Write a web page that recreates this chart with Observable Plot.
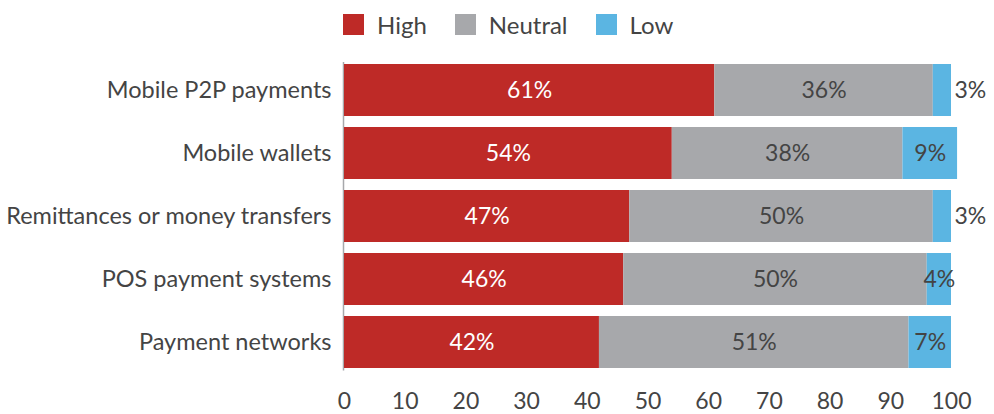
<!DOCTYPE html>
<html><head><meta charset="utf-8">
<script src="https://cdn.jsdelivr.net/npm/d3@7"></script>
<script src="https://cdn.jsdelivr.net/npm/@observablehq/plot@0.6"></script>
<style>
html,body{margin:0;padding:0;background:#fff;font-family:Lato, sans-serif;}
#legend{height:45px;padding-left:343px;box-sizing:border-box;padding-top:8px;overflow:hidden}
#legend .lg-swatch{margin-right:28px !important;}
#legend .lg-swatch > svg{margin-right:13px !important;}
#chart svg{display:block}
</style></head><body>
<div id="legend"></div><div id="chart"></div>
<script>
const categories = ["Mobile P2P payments", "Mobile wallets", "Remittances or money transfers", "POS payment systems", "Payment networks"];
const high = [61, 54, 47, 46, 42];
const neutral = [36, 38, 50, 50, 51];
const low = [3, 9, 3, 4, 7];
const levels = ["High", "Neutral", "Low"];
const colors = ["#BE2A27", "#A7A8AB", "#5BB5E2"];
const xTicks = [0, 10, 20, 30, 40, 50, 60, 70, 80, 90, 100];

const data = categories.flatMap((c, i) => [
  {category: c, level: "High", value: high[i]},
  {category: c, level: "Neutral", value: neutral[i]},
  {category: c, level: "Low", value: low[i]}
]);
const outside = d => d.level === "Low" && d.value < 4;
const color = {domain: levels, range: colors};
const font = "Lato, sans-serif";
const ink = "#444";

document.getElementById("legend").append(Plot.legend({
  color, swatchSize: 21, className: "lg",
  style: {fontSize: "24px", fontFamily: font, color: ink}
}));

const chart = Plot.plot({
  width: 994, height: 369,
  marginLeft: 344, marginRight: 43, marginTop: 5.5, marginBottom: 32,
  x: {domain: [0, 100], ticks: xTicks},
  y: {domain: categories, padding: 0.18},
  color,
  style: {fontFamily: font, color: ink, background: "white"},
  marks: [
    Plot.ruleX([0], {stroke: "#a7a8ab", strokeWidth: 1.5, dx: -1, insetTop: 11.5, insetBottom: 11.5}),
    Plot.barX(data, {x: "value", y: "category", fill: "level", z: "level"}),
    Plot.text(data, Plot.stackX({x: "value", y: "category", z: "level",
      text: d => d.level === "High" ? d.value + "%" : "", fill: "white", fontSize: 23})),
    Plot.text(data, Plot.stackX({x: "value", y: "category", z: "level",
      text: d => d.level !== "High" && !outside(d) ? d.value + "%" : "", fill: ink, fontSize: 23})),
    Plot.text(data, Plot.stackX2({x: "value", y: "category", z: "level",
      text: d => outside(d) ? d.value + "%" : "", fill: ink, fontSize: 23, textAnchor: "start", dx: 3})),
    Plot.axisY({tickSize: 0, tickPadding: 13, fontSize: 23.5, label: null}),
    Plot.axisX({ticks: xTicks, tickSize: 0, tickPadding: 10, fontSize: 23, label: null})
  ]
});
document.getElementById("chart").append(chart);
</script>
</body></html>
